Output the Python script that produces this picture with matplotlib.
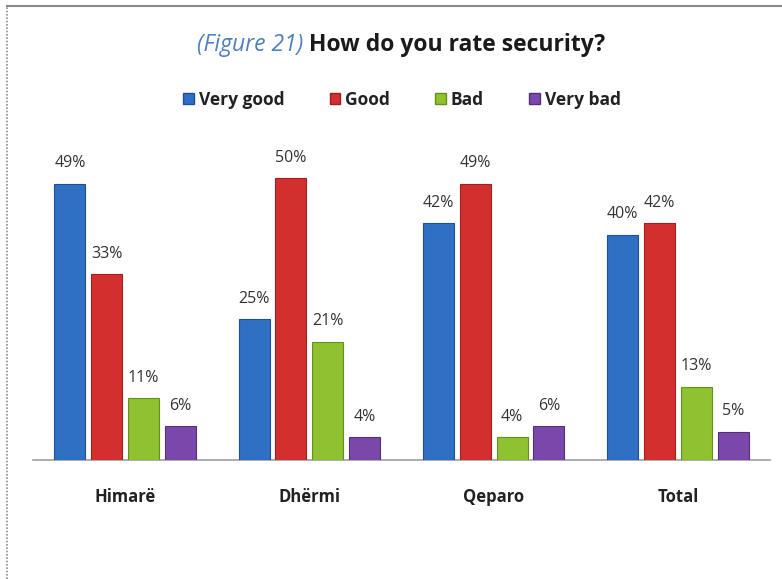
import matplotlib
matplotlib.use("Agg")
import matplotlib.pyplot as plt
import numpy as np
from matplotlib.lines import Line2D
from matplotlib.patches import Patch

categories = ["Himarë", "Dhërmi", "Qeparo", "Total"]
series_names = ["Very good", "Good", "Bad", "Very bad"]
very_good = [49, 25, 42, 40]
good = [33, 50, 49, 42]
bad = [11, 21, 4, 13]
very_bad = [6, 4, 6, 5]
values = [very_good, good, bad, very_bad]
colors = ["#2F6FC4", "#D42F2F", "#8FC231", "#7A48AA"]
edges = ["#1F4F92", "#9E1F1F", "#64901E", "#54307A"]

plt.rcParams['font.family'] = ['Open Sans', 'DejaVu Sans']

fig = plt.figure(figsize=(7.82, 5.79), dpi=100)
W, H = 782, 579
ax = fig.add_axes([33 / W, (H - 460) / H, (770 - 33) / W, (460 - 150) / H])

x = np.arange(len(categories))
step = 0.2
width = 0.168
for i, (vals, c, ec) in enumerate(zip(values, colors, edges)):
    pos = x + (i - 1.5) * step
    ax.bar(pos, vals, width=width, color=c, edgecolor=ec, linewidth=0.8, zorder=3)
    for p, v in zip(pos, vals):
        ax.text(p, v + 2.2, f"{v}%", ha="center", va="bottom", fontsize=11.5,
                color="#333333")

ax.set_xlim(-0.5, 3.5)
ax.set_ylim(0, 55)
ax.set_yticks([])
ax.set_xticks(x)
ax.set_xticklabels(categories, fontsize=12, fontweight="bold", color="#222222")
ax.tick_params(axis="x", length=0, pad=20)
for s in ["top", "right", "left"]:
    ax.spines[s].set_visible(False)
ax.spines["bottom"].set_color("#A0A0A0")
ax.spines["bottom"].set_linewidth(1.2)

# title
ty = (H - 45) / H
fig.text(309 / W, ty, "(Figure 21) ", ha="right", va="center",
         fontsize=16.5, style="italic", color="#4F81BD")
fig.text(309 / W, ty, "How do you rate security?", ha="left", va="center",
         fontsize=16.5, fontweight="bold", color="#1A1A1A")

# legend
handles = [Patch(facecolor=c, edgecolor=ec) for c, ec in zip(colors, edges)]
leg = fig.legend(handles, series_names, loc="center", bbox_to_anchor=(402 / W, (H - 100) / H),
                 ncol=4, frameon=False, fontsize=12.5, handlelength=0.6, handleheight=0.6,
                 handletextpad=0.3, columnspacing=2.6)
for t in leg.get_texts():
    t.set_fontweight("bold")
    t.set_color("#222222")

# frame lines
fig.add_artist(Line2D([7 / W, 7 / W], [0, (H - 6) / H], color="#909090", lw=1.2,
                      linestyle=(0, (1, 1)), transform=fig.transFigure))
fig.add_artist(Line2D([7 / W, 1], [(H - 6) / H, (H - 6) / H], color="#8A8A8A", lw=1.5,
                      transform=fig.transFigure))

fig.savefig("out.png", dpi=100)
